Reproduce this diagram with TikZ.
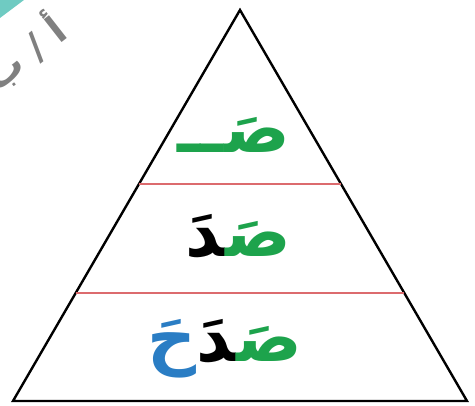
\documentclass[tikz,border=0pt]{standalone}
\usepackage{fontspec}
\usetikzlibrary{calc}
\TeXXeTstate=1
\newfontfamily\arabicfont[Script=Arabic]{DejaVu Sans}
\definecolor{lettergreen}{HTML}{1DA34C}
\definecolor{letterblue}{HTML}{2A7DC4}
\definecolor{rulered}{HTML}{DC6B6E}
\definecolor{cornerteal}{HTML}{6FCBC2}
\definecolor{pagegray}{HTML}{808080}

\begin{document}
\begin{tikzpicture}[
    x=1pt, y=-1pt,
    row/.style={anchor=base east, inner sep=0pt, font=\arabicfont\bfseries\fontsize{68}{72}\selectfont},
    divider/.style={rulered, line width=2pt},
    edge/.style={black, line width=2.4pt, line join=miter}
  ]
  \clip (0,0) rectangle (475,406);

  % corner of the page and its label
  \fill[cornerteal] (0,0) -- (24,0) -- (0,18) -- cycle;
  \node[pagegray, rotate=38, font=\arabicfont\bfseries\fontsize{38}{40}\selectfont] (pagelabel) at (24,52) {\beginR أ / ب\endR};

  % the pyramid
  \coordinate (apex) at (240,10);
  \coordinate (baseleft) at (13,401);
  \coordinate (baseright) at (467,401);
  \draw[edge] (apex) -- (baseleft) -- (baseright) -- cycle;

  \coordinate (upleft) at ($(apex)!0.445!(baseleft)$);
  \coordinate (upright) at ($(apex)!0.445!(baseright)$);
  \coordinate (lowleft) at ($(apex)!0.724!(baseleft)$);
  \coordinate (lowright) at ($(apex)!0.724!(baseright)$);
  \draw[divider] (upleft) -- (upright);
  \draw[divider] (lowleft) -- (lowright);

  % the three steps of the word (coloured pieces set left to right)
  \node[row, lettergreen] (step1) at (290,153) {صَــ};
  \node[row] (step2) at (291,257) {\color{black}^^^^200dدَ\color{lettergreen}صَ^^^^200d};
  \node[row] (step3) at (302,362) {\color{letterblue}حَ\color{black}^^^^200dدَ\color{lettergreen}صَ^^^^200d};
\end{tikzpicture}
\end{document}
